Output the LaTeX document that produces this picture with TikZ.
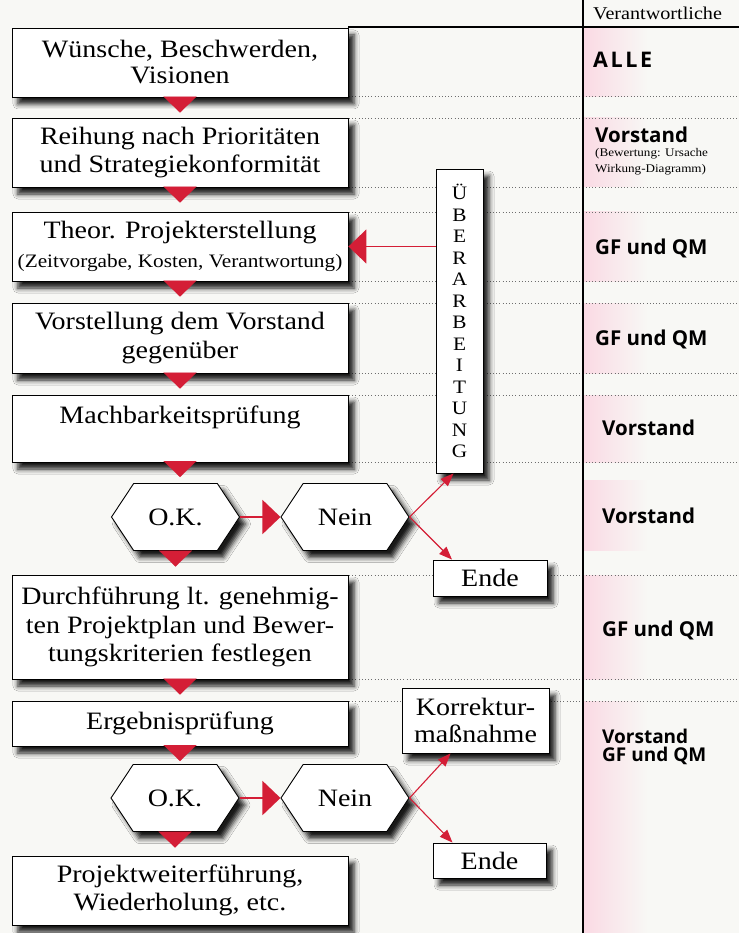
\documentclass[tikz,border=0pt]{standalone}
\usepackage{fontspec}
\setmainfont{Liberation Serif}[FakeStretch=1.12]
\newfontfamily\rsans{Open Sans}
\usetikzlibrary{arrows.meta,shapes.symbols,shadows.blur}
\definecolor{bgc}{RGB}{248,248,245}
\definecolor{redc}{RGB}{212,30,54}
\definecolor{pinkc}{RGB}{250,218,228}
\definecolor{dotc}{RGB}{110,110,110}
\tikzset{
 shad/.style={blur shadow={shadow xshift=6pt,shadow yshift=-7pt,shadow blur radius=5pt,shadow opacity=90}},
 box/.style={draw=black, line width=0.9pt, fill=white, minimum width=336pt, align=center, inner sep=0pt, shad, font=\fontsize{25}{28.5}\selectfont},
 hexa/.style={signal, signal to=west and east, signal pointer angle=113, draw=black, fill=white, line width=0.9pt, minimum width=128pt, minimum height=67pt, inner xsep=0pt, shad, font=\fontsize{25}{28}\selectfont},
 smallbox/.style={draw=black, fill=white, line width=0.9pt, inner sep=0pt, align=center, shad, font=\fontsize{25}{27.5}\selectfont},
 dots/.style={dotc, line width=0.8pt, dash pattern=on 0.8pt off 2.4pt},
 downtri/.style={redc, line width=0.1pt, -{Triangle[length=16pt,width=33pt]}},
 bigarr/.style={redc, line width=1.8pt, -{Triangle[length=18pt,width=34pt]}},
 thinarr/.style={redc, line width=1.1pt, -{Triangle[length=13pt,width=10pt]}},
 resp/.style={anchor=base west, inner sep=0pt, font=\rsans\bfseries\fontsize{20.5}{20}\selectfont},
 pinkband/.style={left color=pinkc, right color=bgc, draw=none},
}
\begin{document}
\begin{tikzpicture}[x=1pt,y=-1pt]
\useasboundingbox (0,0) rectangle (739,933);
\fill[bgc] (0,0) rectangle (739,933);
% pink bands in responsibility column
\shade[pinkband] (584,28) rectangle (648,97);
\shade[pinkband] (584,118) rectangle (648,187);
\shade[pinkband] (584,212) rectangle (648,281);
\shade[pinkband] (584,303) rectangle (648,373);
\shade[pinkband] (584,395) rectangle (648,462);
\shade[pinkband] (584,480) rectangle (648,550);
\shade[pinkband] (584,575) rectangle (648,679);
\shade[pinkband] (584,701) rectangle (648,933);
% dotted row lines
\foreach \yy in {96,118,187,212,281,303,373,395,462,575,679,701}
  \draw[dots] (349,\yy) -- (739,\yy);
% column rules
\draw[line width=1.2pt] (583,0) -- (583,933);
\draw[line width=1.2pt] (348,27) -- (739,27);
\node[anchor=base west, inner sep=0pt, font=\fontsize{18}{18}\selectfont] (hdr) at (593,20) {Verantwortliche};

% main column
\node[box, minimum height=69pt, font=\fontsize{25}{26}\selectfont] (b1) at (180,62.5) {Wünsche, Beschwerden,\\Visionen};
\node[box, minimum height=69pt] (b2) at (180,152.5) {Reihung nach Prioritäten\\und Strategiekonformität};
\node[box, minimum height=69pt] (b3) at (180,246.5) {Theor. Projekterstellung\\{\fontsize{19}{30}\selectfont(Zeitvorgabe, Kosten, Verantwortung)}};
\node[box, minimum height=70pt] (b4) at (180,338) {Vorstellung dem Vorstand\\gegenüber};
\node[box, minimum height=67pt] (b5) at (180,428.5) {Machbarkeitsprüfung\\\mbox{}};
\node[hexa] (ok1) at (175.5,517) {O.K.};
\node[hexa] (no1) at (345,517) {Nein};
\node[smallbox, minimum width=114pt, minimum height=36pt] (e1) at (490,578) {Ende};
\node[box, minimum height=104pt] (b6) at (180,627) {Durchführung lt. genehmig-\\ten Projektplan und Bewer-\\tungskriterien festlegen};
\node[box, minimum height=45pt] (b7) at (180,723.5) {Ergebnisprüfung};
\node[smallbox, minimum width=147pt, minimum height=65pt] (kor) at (475.5,720.5) {Korrektur-\\maßnahme};
\node[hexa] (ok2) at (175,798) {O.K.};
\node[hexa] (no2) at (345,798) {Nein};
\node[smallbox, minimum width=113pt, minimum height=35pt] (e2) at (489.5,860.5) {Ende};
\node[box, minimum height=69pt] (b8) at (180,890.5) {Projektweiterführung,\\Wiederholung, etc.};
\node[smallbox, minimum width=47pt, minimum height=304pt, font=\fontsize{19}{21.5}\selectfont] (ueb) at (459.5,321) {Ü\\B\\E\\R\\A\\R\\B\\E\\I\\T\\U\\N\\G};

% flow triangles
\draw[downtri, shorten >=5pt] (b1.south) -- (b2.north);
\draw[downtri, shorten >=9pt] (b2.south) -- (b3.north);
\draw[downtri, shorten >=6pt] (b3.south) -- (b4.north);
\draw[downtri, shorten >=6pt] (b4.south) -- (b5.north);
\draw[downtri, shorten >=6pt] (b5.south) -- (b5.south |- ok1.north);
\draw[downtri, shorten >=8pt] (ok1.south) -- (ok1.south |- b6.north);
\draw[downtri, shorten >=6pt] (b6.south) -- (b7.north);
\draw[downtri, shorten >=3pt] (b7.south) -- (b7.south |- ok2.north);
\draw[downtri, shorten >=8pt] (ok2.south) -- (ok2.south |- b8.north);

% red arrows
\draw[bigarr] (ok1.east) -- (no1.west);
\draw[bigarr] (ok2.east) -- (no2.west);
\draw[bigarr] (ueb.west |- b3.east) -- (b3.east);
\draw[thinarr] (no1.east) -- ([xshift=-6pt]ueb.south);
\draw[thinarr] (no1.east) -- ([xshift=-38pt]e1.north);
\draw[thinarr] (no2.east) -- ([xshift=-25pt]kor.south);
\draw[thinarr] (no2.east) -- ([xshift=-37pt]e2.north);

% responsibilities
\node[resp, font=\rsans\bfseries\fontsize{21.5}{21}\selectfont\addfontfeature{LetterSpace=12}] (r1) at (593,68) {ALLE};
\node[resp] (r2) at (595,143) {Vorstand};
\node[anchor=north west, inner sep=0pt, align=left, font=\fontsize{11.7}{16}\selectfont] (r2b) at (595,148) {(Bewertung: Ursache\\Wirkung-Diagramm)};
\node[resp] (r3) at (595,254) {GF und QM};
\node[resp] (r4) at (595,345) {GF und QM};
\node[resp] (r5) at (602,435) {Vorstand};
\node[resp] (r6) at (602,523) {Vorstand};
\node[resp] (r7) at (602,636) {GF und QM};
\node[resp, font=\rsans\bfseries\fontsize{19}{19}\selectfont] (r8) at (602,743) {Vorstand};
\node[resp, font=\rsans\bfseries\fontsize{19}{19}\selectfont] (r8b) at (602,761) {GF und QM};
\end{tikzpicture}
\end{document}
